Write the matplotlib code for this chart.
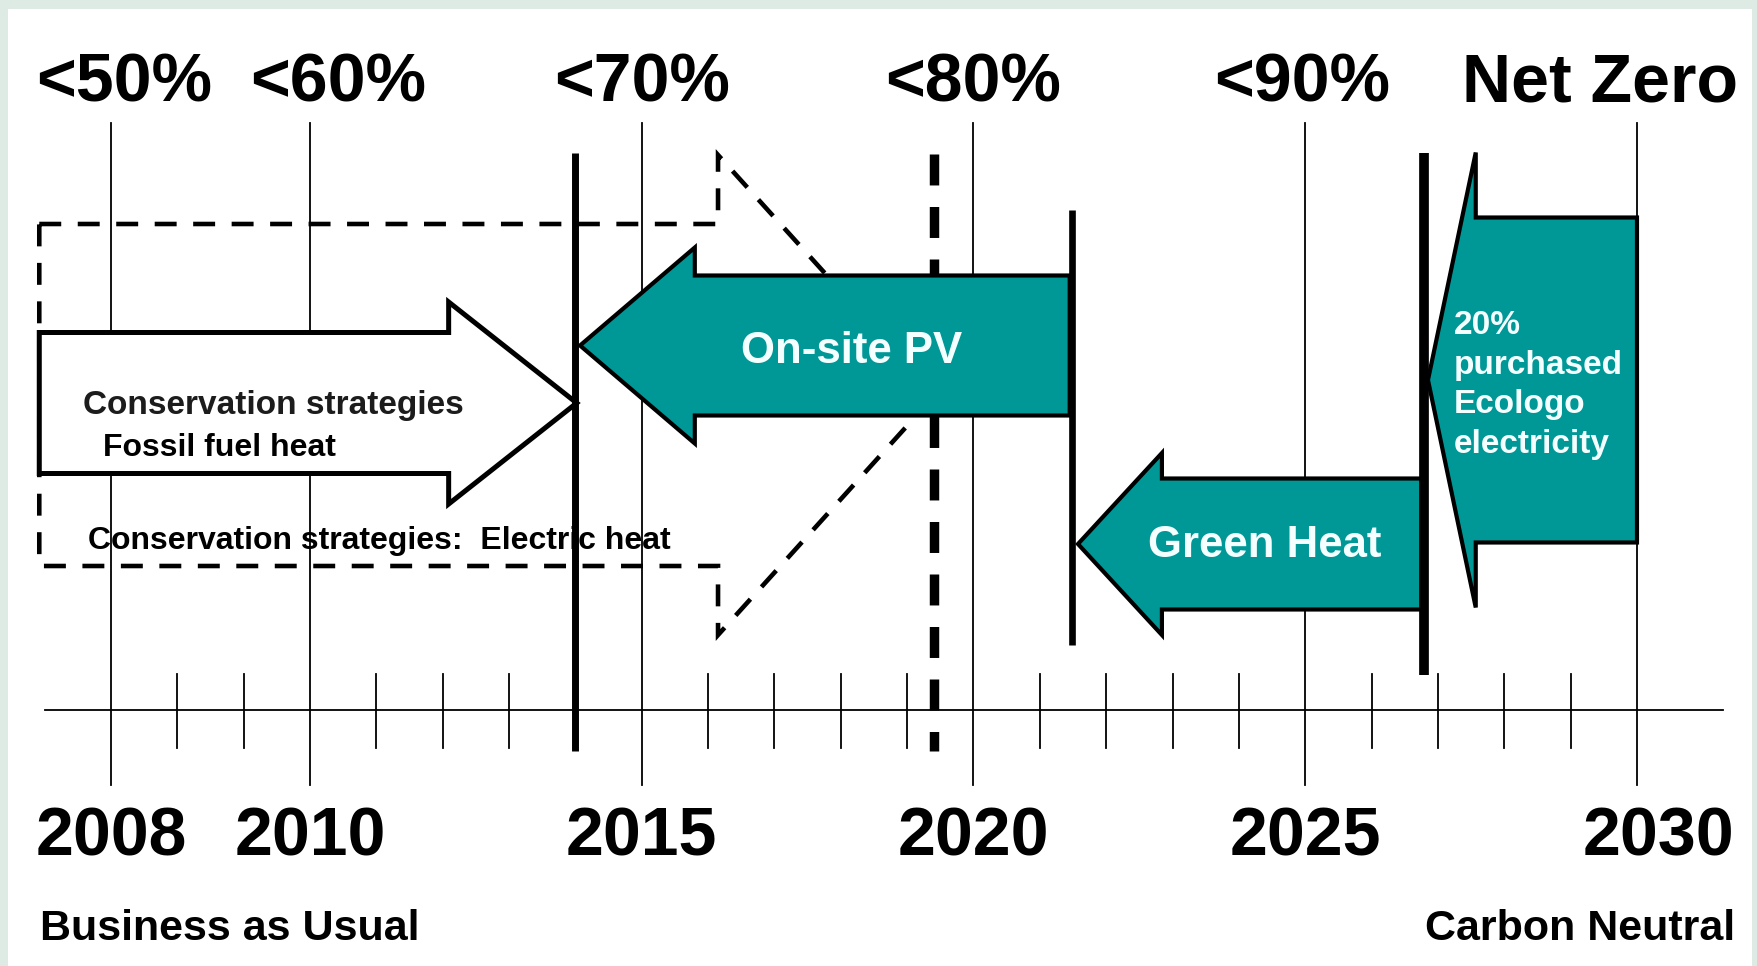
import matplotlib
matplotlib.use("Agg")
import matplotlib.pyplot as plt
from matplotlib.patches import Polygon, Rectangle

plt.rcParams['font.family'] = ['Liberation Sans', 'DejaVu Sans']
plt.rcParams['font.weight'] = 'bold'
plt.rcParams['lines.scale_dashes'] = False

TEAL = '#009797'

# timeline (the "2008" line sits one step left of the 2008 tick on this scale)
year_labels = ['2008', '2010', '2015', '2020', '2025', '2030']
year_pos = [2007, 2010, 2015, 2020, 2025, 2030]
minor_years = [2008, 2009, 2011, 2012, 2013, 2014, 2016, 2017, 2018, 2019,
               2021, 2022, 2023, 2024, 2026, 2027, 2028, 2029]
target_labels = ['<50%', '<60%', '<70%', '<80%', '<90%', 'Net Zero']
target_pos = [2007.2, 2010.43, 2015, 2020, 2024.95, 2029.45]

# milestone lines
milestones = [2014, 2019.4, 2021.48, 2026.79]

# strategy arrows: (tail, head base, tip) in timeline years
fossil = (2005.92, 2012.09, 2014.02)
electric = (2005.92, 2016.15, 2019.42)
pv = (2021.45, 2015.8, 2014.07)
green_heat = (2026.76, 2022.84, 2021.575)
ecologo = (2030.0, 2027.57, 2026.85)
ecologo_lines = ['20%', 'purchased', 'Ecologo', 'electricity']


def arrow_xy(span, yc, shaft, head):
    tail, base, tip = span
    return [(tail, yc - shaft), (base, yc - shaft), (base, yc - head), (tip, yc),
            (base, yc + head), (base, yc + shaft), (tail, yc + shaft)]


fig = plt.figure(figsize=(17.58, 9.66), dpi=100, facecolor='#deeae4')
ax = fig.add_axes([0, 0, 1, 1])
ax.set_xlim(2005.328, 2031.824)
ax.set_ylim(966, 0)
ax.axis('off')

# white slide panel
ax.add_patch(Rectangle((2005.448, 9), 26.285, 960, facecolor='white',
                       edgecolor='none', zorder=0))

# thin grid / axis
for x in year_pos:
    ax.plot([x, x], [123, 785], color='black', lw=1.3, zorder=2)
for x in minor_years:
    ax.plot([x, x], [674, 748], color='black', lw=1.3, zorder=2)
ax.plot([2006.0, 2031.3], [710, 710], color='black', lw=1.3, zorder=2)

# milestones
ax.plot([milestones[0]] * 2, [153, 751], color='black', lw=5, zorder=5,
        solid_capstyle='butt')
ax.plot([milestones[1]] * 2, [154, 751], color='black', lw=6.8, zorder=3,
        linestyle=(0, (22.3, 15.5)), dash_capstyle='butt')
ax.plot([milestones[2]] * 2, [210, 645], color='black', lw=4.8, zorder=5,
        solid_capstyle='butt')
ax.plot([milestones[3]] * 2, [153, 675], color='black', lw=7, zorder=5,
        solid_capstyle='butt')

# electric heat conservation (dashed outline)
ax.add_patch(Polygon(arrow_xy(electric, 395, 171, 240), closed=True, fill=False,
                     edgecolor='black', lw=3.3, linestyle=(0, (15.8, 11.9)),
                     joinstyle='miter', zorder=2.5))
ax.text(2006.65, 549, 'Conservation strategies:  Electric heat', fontsize=23,
        ha='left', va='baseline', color='black', zorder=1)

# fossil heat conservation (white arrow)
ax.add_patch(Polygon(arrow_xy(fossil, 403, 70.5, 101), closed=True,
                     facecolor='white', edgecolor='black', lw=3.6,
                     joinstyle='miter', zorder=4))
ax.text(2006.58, 414, 'Conservation strategies', fontsize=24, ha='left',
        va='baseline', color='#1c1c1c', zorder=6)
ax.text(2006.88, 456, 'Fossil fuel heat', fontsize=23, ha='left',
        va='baseline', color='black', zorder=6)

# teal arrows
for span, yc, shaft, head in [(pv, 345.5, 70, 98), (green_heat, 544, 65.5, 91),
                              (ecologo, 380, 162.5, 227.5)]:
    ax.add_patch(Polygon(arrow_xy(span, yc, shaft, head), closed=True,
                         facecolor=TEAL, edgecolor='black', lw=3,
                         joinstyle='miter', zorder=4))

ax.text(2018.17, 363, 'On-site PV', fontsize=31.5, ha='center', va='baseline',
        color='#f4ffff', zorder=6)
ax.text(2024.39, 557, 'Green Heat', fontsize=31.5, ha='center', va='baseline',
        color='#f4ffff', zorder=6)
for i, line in enumerate(ecologo_lines):
    ax.text(2027.24, 334 + 39.7 * i, line, fontsize=24, ha='left',
            va='baseline', color='#f4ffff', zorder=6)

# targets and years
for x, lab in zip(target_pos, target_labels):
    ax.text(x, 102, lab, fontsize=49, ha='center', va='baseline', color='black')
for x, lab in zip(year_pos, year_labels):
    if lab == '2030':
        ax.text(2031.47, 855, lab, fontsize=49, ha='right', va='baseline')
    else:
        ax.text(x, 855, lab, fontsize=49, ha='center', va='baseline')

ax.text(2005.93, 940, 'Business as Usual', fontsize=31, ha='left', va='baseline')
ax.text(2031.48, 940, 'Carbon Neutral', fontsize=31, ha='right', va='baseline')

fig.savefig('out.png', dpi=100, facecolor=fig.get_facecolor())
